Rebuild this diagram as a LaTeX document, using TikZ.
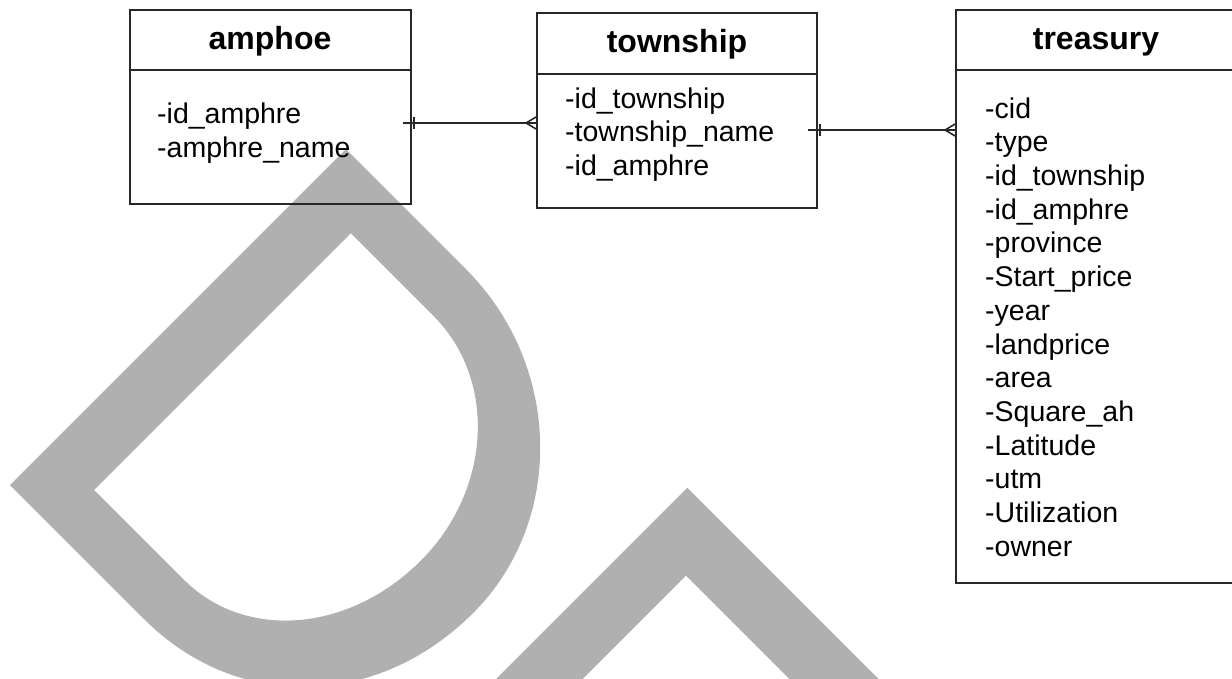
\documentclass[tikz,border=0pt]{standalone}
\usepackage{fontspec}
\setmainfont{Liberation Sans}
\usetikzlibrary{positioning}
\definecolor{wmgray}{RGB}{176,176,176}
\definecolor{linegray}{RGB}{40,40,40}

\begin{document}
\begin{tikzpicture}[
x=1pt, y=-1pt,
entity/.style={draw=linegray, line width=1.8pt, inner sep=0pt},
title/.style={font=\fontsize{32}{38}\selectfont\bfseries, inner sep=0pt},
attrs/.style={font=\fontsize{28.5}{33.7}\selectfont, align=left, inner sep=0pt, anchor=west},
rel/.style={draw=linegray, line width=1.6pt}
]
\useasboundingbox (0,0) rectangle (1232,679);
\clip (0,0) rectangle (1232,679);

% watermark letters, turned by 45 degrees
\begin{scope}[shift={(10,485)}, x={(0.7071pt,-0.7071pt)}, y={(0.7071pt,0.7071pt)}]
\fill[wmgray, even odd rule]
  (0,0) -- (0,475) -- (170,475) .. controls (305,475) and (418,368) .. (418,237)
  .. controls (418,100) and (320,0) .. (190,0) -- cycle
  (63,56) -- (63,419) -- (180,419) .. controls (270,419) and (344,337) .. (344,237)
  .. controls (344,135) and (276,56) .. (190,56) -- cycle;
\fill[wmgray] (481,0) -- (481,477) -- (900,477) -- (900,414) -- (542,414) -- (542,0) -- cycle;
\end{scope}

% entities
\node[entity, minimum width=281pt, minimum height=194pt] (amphoe) at (270.5,107) {};
\node[entity, minimum width=280pt, minimum height=195pt] (township) at (677,110.5) {};
\node[entity, minimum width=280pt, minimum height=573pt] (treasury) at (1096,296.5) {};

\draw[entity] ([yshift=-61pt]amphoe.north west) -- ([yshift=-61pt]amphoe.north east);
\draw[entity] ([yshift=-62pt]township.north west) -- ([yshift=-62pt]township.north east);
\draw[entity] ([yshift=-61pt]treasury.north west) -- ([yshift=-61pt]treasury.north east);

% titles
\node[title] (amphoe-title) at (270,41.5) {amphoe};
\node[title] (township-title) at (677,44.5) {township};
\node[title] (treasury-title) at (1096,42) {treasury};

% attributes
\node[attrs] (amphoe-attrs) at (157,133) {-id\_amphre\\-amphre\_name};
\node[attrs] (township-attrs) at (565,134.5) {-id\_township\\-township\_name\\-id\_amphre};
\node[attrs] (treasury-attrs) at (985,327) {-cid\\-type\\-id\_township\\-id\_amphre\\-province\\-Start\_price\\-year\\-landprice\\-area\\-Square\_ah\\-Latitude\\-utm\\-Utilization\\-owner};

% relations
\coordinate (amphoe-out) at (403,123);
\coordinate (township-out) at (808,130);

\draw[rel] (amphoe-out) -- (amphoe-out -| township.west);
\draw[rel] ([xshift=11pt]amphoe-out) ++(0,-6) -- ++(0,12);
\draw[rel] (amphoe-out -| township.west) ++(0,-6) -- ++(-10,6) -- ++(10,6);

\draw[rel] (township-out) -- (township-out -| treasury.west);
\draw[rel] ([xshift=12pt]township-out) ++(0,-6) -- ++(0,12);
\draw[rel] (township-out -| treasury.west) ++(0,-6) -- ++(-10,6) -- ++(10,6);

\end{tikzpicture}
\end{document}
